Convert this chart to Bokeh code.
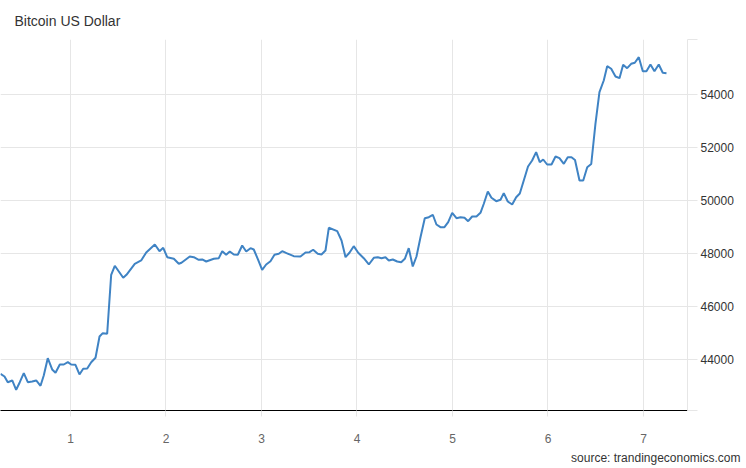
from bokeh.plotting import figure
from bokeh.models import FixedTicker, Range1d, Title
from bokeh.embed import file_html
from bokeh.resources import INLINE

title_text = "Bitcoin US Dollar"
source_text = "source: trandingeconomics.com"

days = [0.267, 0.309, 0.343, 0.390, 0.431, 0.469, 0.511, 0.553, 0.599, 0.641,
        0.686, 0.720, 0.762, 0.808, 0.843, 0.888, 0.930, 0.972, 1.007, 1.052,
        1.094, 1.133, 1.175, 1.217, 1.262, 1.304, 1.338, 1.384, 1.426, 1.464,
        1.552, 1.586, 1.673, 1.740, 1.793, 1.883, 1.932, 1.971, 2.013, 2.082,
        2.134, 2.162, 2.249, 2.291, 2.343, 2.379, 2.421, 2.501, 2.553, 2.589,
        2.630, 2.668, 2.710, 2.752, 2.798, 2.840, 2.885, 2.919, 2.965, 3.007,
        3.049, 3.094, 3.136, 3.181, 3.217, 3.262, 3.338, 3.408, 3.461, 3.503,
        3.541, 3.589, 3.628, 3.670, 3.705, 3.793, 3.838, 3.880, 3.921, 3.966,
        4.013, 4.071, 4.124, 4.176, 4.218, 4.257, 4.298, 4.333, 4.375, 4.421,
        4.463, 4.501, 4.542, 4.584, 4.623, 4.665, 4.710, 4.752, 4.794, 4.832,
        4.874, 4.916, 4.955, 4.997, 5.042, 5.084, 5.126, 5.164, 5.206, 5.251,
        5.293, 5.328, 5.370, 5.408, 5.458, 5.503, 5.537, 5.579, 5.625, 5.667,
        5.705, 5.791, 5.834, 5.876, 5.914, 5.950, 5.991, 6.037, 6.079, 6.120,
        6.166, 6.207, 6.246, 6.283, 6.330, 6.369, 6.411, 6.453, 6.497, 6.539,
        6.584, 6.620, 6.662, 6.707, 6.749, 6.787, 6.829, 6.871, 6.909, 6.951,
        6.993, 7.031, 7.073, 7.115, 7.160, 7.202, 7.241]

price = [43460, 43358, 43143, 43208, 42857, 43143, 43483, 43143, 43170, 43208,
         43007, 43396, 44049, 43623, 43498, 43811, 43811, 43898, 43811, 43800,
         43434, 43649, 43660, 43898, 44064, 44868, 44993, 44970, 47196, 47536,
         47083, 47196, 47611, 47736, 48038, 48340, 48087, 48215, 47861, 47800,
         47611, 47649, 47887, 47861, 47762, 47774, 47698, 47800, 47823, 48087,
         47951, 48076, 47962, 47951, 48302, 48076, 48200, 48151, 47762, 47385,
         47585, 47710, 47951, 47989, 48087, 48011, 47898, 47887, 48038, 48049,
         48140, 47989, 47962, 48113, 48970, 48842, 48491, 47861, 48027, 48276,
         48027, 47823, 47585, 47838, 47861, 47823, 47861, 47736, 47774, 47698,
         47672, 47800, 48200, 47510, 47887, 48615, 49332, 49370, 49461, 49094,
         48993, 48993, 49181, 49536, 49332, 49370, 49347, 49219, 49396, 49396,
         49536, 49876, 50340, 50102, 49974, 50027, 50276, 49962, 49849, 50125,
         50264, 51283, 51509, 51823, 51446, 51547, 51358, 51358, 51660, 51597,
         51385, 51634, 51634, 51528, 50755, 50755, 51257, 51377, 52894, 54087,
         54528, 55068, 54970, 54679, 54615, 55121, 54992, 55158, 55196, 55408,
         54879, 54879, 55132, 54879, 55132, 54819, 54804]

x_ticks = [1, 2, 3, 4, 5, 6, 7]
y_ticks = [44000, 46000, 48000, 50000, 52000, 54000]
y_lo, y_hi = 42075, 56075

FONT = "Liberation Sans"
GRID = "#e6e6e6"

p = figure(width=746, height=468, output_backend="svg", toolbar_location=None,
           y_axis_location="right",
           x_range=Range1d(0.267, 7.461), y_range=Range1d(y_lo, y_hi),
           min_border_left=0, min_border_right=59, min_border_top=39,
           min_border_bottom=58)
p.outline_line_color = None
p.background_fill_color = "white"
p.border_fill_color = "white"

p.title.text = title_text
p.title.align = "left"
p.title.offset = 14
p.title.text_font = FONT
p.title.text_font_size = "14px"
p.title.text_font_style = "normal"
p.title.text_color = "#333333"
p.title.standoff = 21

p.line(days, price, line_color="#3f83c4", line_width=2)

# x axis
xa = p.xaxis[0]
xa.ticker = FixedTicker(ticks=x_ticks)
xa.axis_line_color = "black"
xa.axis_line_width = 1
xa.major_tick_line_color = GRID
xa.major_tick_in = 0
xa.major_tick_out = 6
xa.minor_tick_line_color = None
xa.major_label_standoff = 17
xa.major_label_text_font = FONT
xa.major_label_text_font_size = "12px"
xa.major_label_text_color = "#666666"

# y axis (right)
ya = p.yaxis[0]
ya.ticker = FixedTicker(ticks=[y_lo] + y_ticks + [y_hi])
ya.major_label_overrides = {y_lo: "", y_hi: ""}
ya.axis_line_color = GRID
ya.major_tick_line_color = GRID
ya.major_tick_in = 0
ya.major_tick_out = 10
ya.minor_tick_line_color = None
ya.major_label_standoff = 3
ya.major_label_text_font = FONT
ya.major_label_text_font_size = "12px"
ya.major_label_text_color = "#333333"
ya.major_label_text_align = "left"

p.xgrid.ticker = FixedTicker(ticks=x_ticks)
p.xgrid.grid_line_color = GRID
p.ygrid.ticker = FixedTicker(ticks=[y_lo] + y_ticks + [y_hi])
p.ygrid.grid_line_color = GRID

src = Title(text=source_text, align="right", offset=-53, text_font=FONT,
            text_font_size="12px", text_font_style="normal",
            text_color="#333333", standoff=6)
p.add_layout(src, "below")

open("out.html", "w").write(file_html(p, INLINE))
